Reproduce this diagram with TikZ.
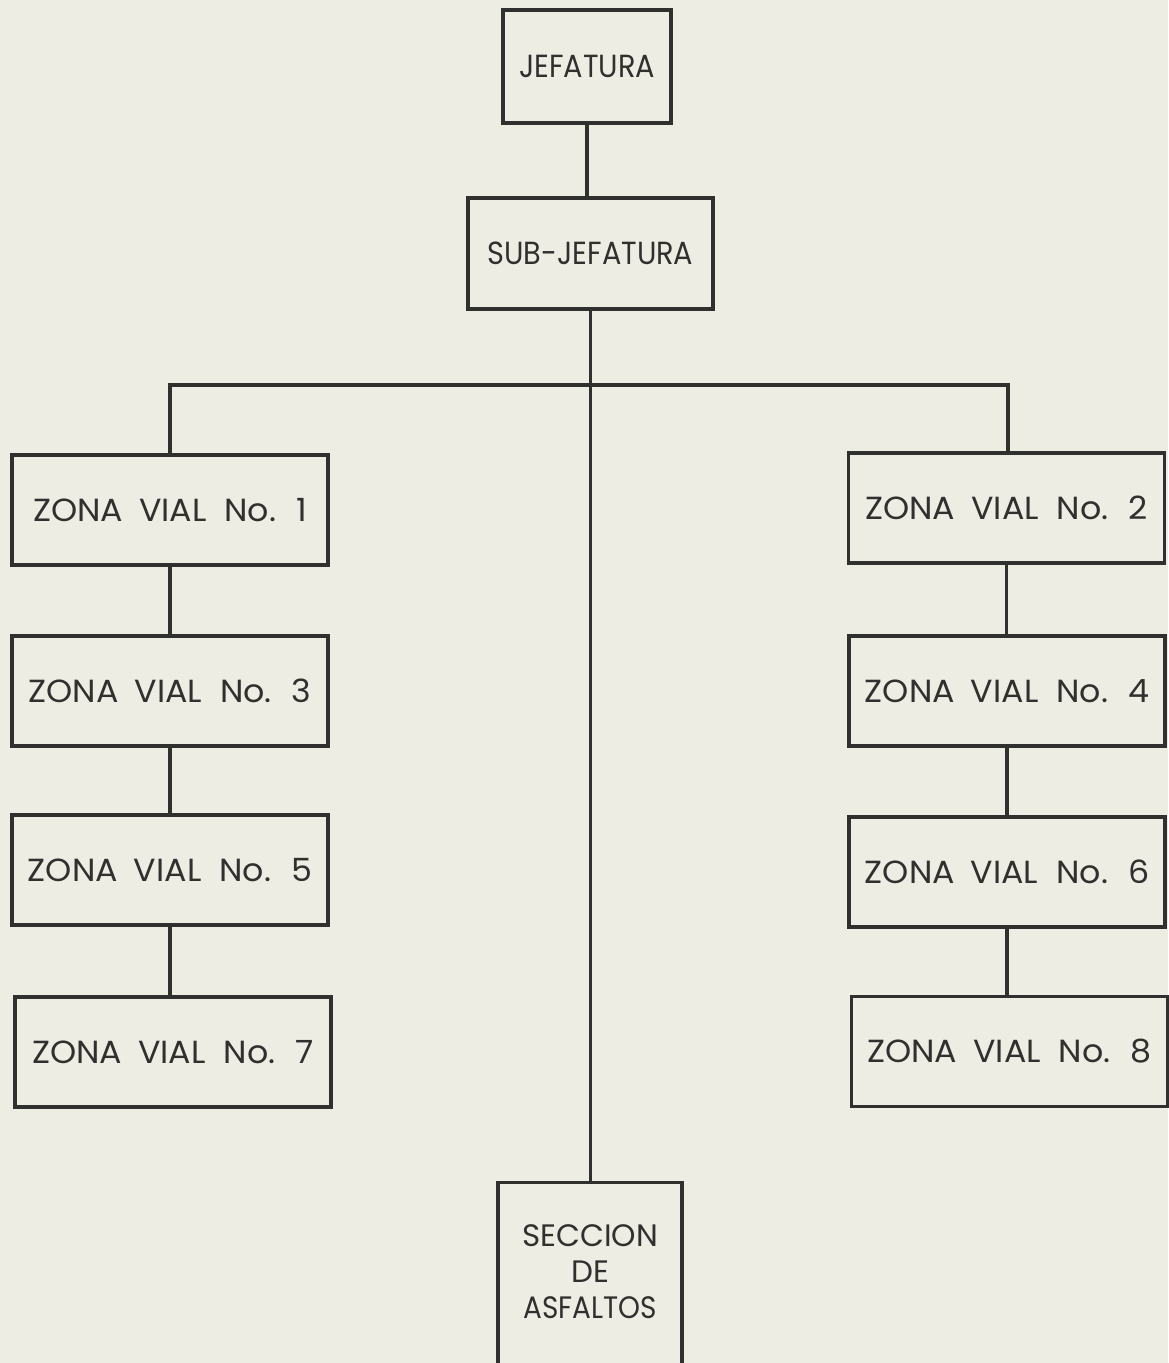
\documentclass[tikz,border=0pt]{standalone}
\usepackage{fontspec}
\setmainfont{Poppins}
\definecolor{paper}{RGB}{238,237,228}
\definecolor{ink}{RGB}{48,48,46}
\newcommand\zonavial[1]{{\addfontfeature{FakeStretch=1.04}ZONA\hspace{8pt}VIAL\hspace{9pt}No.\hspace{10pt}#1}}
\newcommand\narrowtext[1]{{\addfontfeature{FakeStretch=0.9}#1}}
\begin{document}
\begin{tikzpicture}[x=0.5pt,y=-0.5pt,
  box/.style={draw=ink, line width=1.6pt, inner sep=0pt, text=ink,
    font=\fontsize{16}{18}\selectfont},
  zbox/.style={box, minimum width=158pt, minimum height=55pt},
  conn/.style={draw=ink, line width=1.6pt}]
\fill[paper] (0,0) rectangle (1168,1363);
\useasboundingbox (0,0) rectangle (1168,1363);
\node[box, minimum width=84pt, minimum height=56.5pt] (jef) at (587,66.5) {\narrowtext{JEFATURA}};
\node[box, minimum width=122.5pt, minimum height=55.5pt] (sub) at (590.5,253.5) {\narrowtext{SUB-JEFATURA}};
\node[zbox] (z1) at (170,510) {\zonavial{1}};
\node[zbox] (z3) at (170,691) {\zonavial{3}};
\node[zbox] (z5) at (170,870) {\zonavial{5}};
\node[zbox] (z7) at (173,1052) {\zonavial{7}};
\node[zbox] (z2) at (1006.5,508) {\zonavial{2}};
\node[zbox] (z4) at (1007,691) {\zonavial{4}};
\node[zbox] (z6) at (1007,872) {\zonavial{6}};
\node[zbox] (z8) at (1009.5,1051.5) {\zonavial{8}};
\node[box, anchor=north, minimum width=92pt, minimum height=120pt] (sec) at (590,1181) {};
\node[inner sep=0pt, text=ink, font=\fontsize{15.5}{18}\selectfont, align=center, anchor=north] (sectext) at (590,1224) {SECCION\\DE\\\narrowtext{ASFALTOS}};
\coordinate (hl) at (172,385);
\coordinate (hr) at (1008,385);
\draw[conn] (jef.south) -- (jef.south |- sub.north);
\draw[conn] (sub.south) -- (sub.south |- sec.north);
\draw[conn] (z1.north) -- (z1.north |- hl) -- (hr) -- (hr |- z2.north);
\draw[conn] (z1.south) -- (z3.north);
\draw[conn] (z3.south) -- (z5.north);
\draw[conn] (z5.south) -- (z5.south |- z7.north);
\draw[conn] (z2.south) -- (z2.south |- z4.north);
\draw[conn] (z4.south) -- (z6.north);
\draw[conn] (z6.south) -- (z6.south |- z8.north);
\end{tikzpicture}
\end{document}
